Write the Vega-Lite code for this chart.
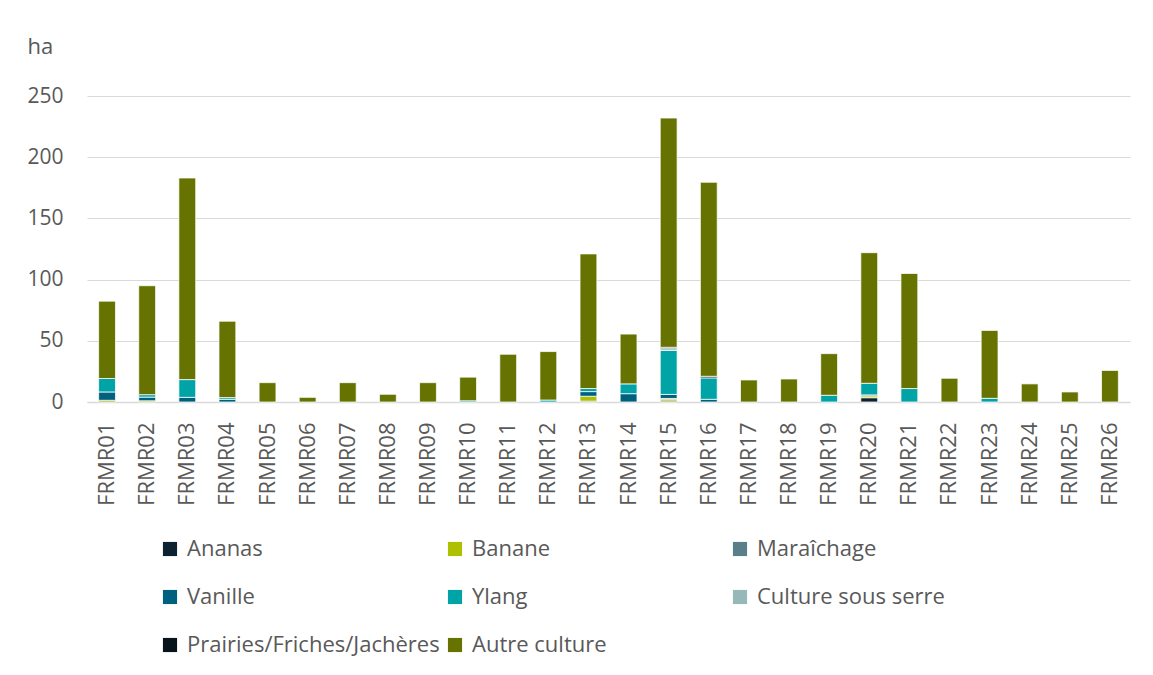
{
  "$schema": "https://vega.github.io/schema/vega-lite/v6.json",
  "autosize": {"type": "none"},
  "padding": {"left": 87, "top": 96, "right": 23, "bottom": 273},
  "width": 1043,
  "height": 306,
  "background": "white",
  "config": {
    "font": "Open Sans",
    "view": {"stroke": null},
    "axis": {"labelColor": "#595959", "titleColor": "#595959", "labelFont": "Open Sans", "titleFont": "Open Sans"},
    "legend": {"labelFont": "Open Sans"}
  },
  "data": {
    "values": [
      {"region": "FRMR01", "culture": "Banane", "ha": 1.4},
      {"region": "FRMR01", "culture": "Vanille", "ha": 6.8},
      {"region": "FRMR01", "culture": "Ylang", "ha": 11},
      {"region": "FRMR01", "culture": "Autre culture", "ha": 63.2},
      {"region": "FRMR02", "culture": "Banane", "ha": 1},
      {"region": "FRMR02", "culture": "Vanille", "ha": 3},
      {"region": "FRMR02", "culture": "Ylang", "ha": 2},
      {"region": "FRMR02", "culture": "Autre culture", "ha": 89},
      {"region": "FRMR03", "culture": "Vanille", "ha": 3.8},
      {"region": "FRMR03", "culture": "Ylang", "ha": 14.5},
      {"region": "FRMR03", "culture": "Autre culture", "ha": 164.7},
      {"region": "FRMR04", "culture": "Vanille", "ha": 2.2},
      {"region": "FRMR04", "culture": "Ylang", "ha": 1.4},
      {"region": "FRMR04", "culture": "Autre culture", "ha": 62.4},
      {"region": "FRMR05", "culture": "Autre culture", "ha": 15.8},
      {"region": "FRMR06", "culture": "Autre culture", "ha": 3.8},
      {"region": "FRMR07", "culture": "Autre culture", "ha": 15.8},
      {"region": "FRMR08", "culture": "Autre culture", "ha": 6.3},
      {"region": "FRMR09", "culture": "Autre culture", "ha": 15.8},
      {"region": "FRMR10", "culture": "Ylang", "ha": 1},
      {"region": "FRMR10", "culture": "Autre culture", "ha": 19.3},
      {"region": "FRMR11", "culture": "Autre culture", "ha": 39},
      {"region": "FRMR12", "culture": "Ylang", "ha": 1.6},
      {"region": "FRMR12", "culture": "Autre culture", "ha": 39.6},
      {"region": "FRMR13", "culture": "Ananas", "ha": 0.7},
      {"region": "FRMR13", "culture": "Banane", "ha": 4},
      {"region": "FRMR13", "culture": "Vanille", "ha": 3.8},
      {"region": "FRMR13", "culture": "Ylang", "ha": 2.5},
      {"region": "FRMR13", "culture": "Autre culture", "ha": 110},
      {"region": "FRMR14", "culture": "Vanille", "ha": 6.8},
      {"region": "FRMR14", "culture": "Ylang", "ha": 8},
      {"region": "FRMR14", "culture": "Autre culture", "ha": 40.7},
      {"region": "FRMR15", "culture": "Ananas", "ha": 0.8},
      {"region": "FRMR15", "culture": "Banane", "ha": 1.6},
      {"region": "FRMR15", "culture": "Maraîchage", "ha": 0.5},
      {"region": "FRMR15", "culture": "Vanille", "ha": 3.3},
      {"region": "FRMR15", "culture": "Ylang", "ha": 36},
      {"region": "FRMR15", "culture": "Culture sous serre", "ha": 1.4},
      {"region": "FRMR15", "culture": "Prairies/Friches/Jachères", "ha": 1.1},
      {"region": "FRMR15", "culture": "Autre culture", "ha": 187.3},
      {"region": "FRMR16", "culture": "Vanille", "ha": 2.2},
      {"region": "FRMR16", "culture": "Ylang", "ha": 17.5},
      {"region": "FRMR16", "culture": "Prairies/Friches/Jachères", "ha": 1.3},
      {"region": "FRMR16", "culture": "Autre culture", "ha": 158.5},
      {"region": "FRMR17", "culture": "Autre culture", "ha": 18},
      {"region": "FRMR18", "culture": "Autre culture", "ha": 18.8},
      {"region": "FRMR19", "culture": "Ylang", "ha": 5.5},
      {"region": "FRMR19", "culture": "Autre culture", "ha": 34},
      {"region": "FRMR20", "culture": "Ananas", "ha": 3.5},
      {"region": "FRMR20", "culture": "Banane", "ha": 1.5},
      {"region": "FRMR20", "culture": "Vanille", "ha": 0.8},
      {"region": "FRMR20", "culture": "Ylang", "ha": 9.5},
      {"region": "FRMR20", "culture": "Autre culture", "ha": 106.7},
      {"region": "FRMR21", "culture": "Ylang", "ha": 11},
      {"region": "FRMR21", "culture": "Autre culture", "ha": 94},
      {"region": "FRMR22", "culture": "Autre culture", "ha": 19.4},
      {"region": "FRMR23", "culture": "Ylang", "ha": 3},
      {"region": "FRMR23", "culture": "Autre culture", "ha": 55.5},
      {"region": "FRMR24", "culture": "Autre culture", "ha": 14.8},
      {"region": "FRMR25", "culture": "Autre culture", "ha": 8.2},
      {"region": "FRMR26", "culture": "Autre culture", "ha": 25.8}
    ]
  },
  "transform": [
    {"calculate": "indexof(['Ananas', 'Banane', 'Maraîchage', 'Vanille', 'Ylang', 'Culture sous serre', 'Prairies/Friches/Jachères', 'Autre culture'], datum.culture)", "as": "stack_rank"}
  ],
  "mark": {"type": "bar", "stroke": "#ffffff", "strokeWidth": 0.75},
  "encoding": {
    "x": {
      "field": "region",
      "type": "nominal",
      "sort": null,
      "scale": {"paddingInner": 0.58, "paddingOuter": 0.29},
      "axis": {
        "title": null,
        "labelAngle": -90,
        "labelFontSize": 22,
        "labelPadding": 20,
        "ticks": false,
        "domain": true,
        "domainColor": "#d9d9d9",
        "domainWidth": 1.5
      }
    },
    "y": {
      "field": "ha",
      "type": "quantitative",
      "stack": "zero",
      "scale": {"domain": [0, 250], "nice": false},
      "axis": {
        "title": "ha",
        "titleAngle": 0,
        "titleAlign": "left",
        "titleBaseline": "alphabetic",
        "titleX": -60,
        "titleY": -43,
        "titleFontSize": 22,
        "titleFontWeight": "normal",
        "values": [0, 50, 100, 150, 200, 250],
        "labelFontSize": 21,
        "labelPadding": 24,
        "ticks": false,
        "domain": false,
        "grid": true,
        "gridColor": "#d9d9d9",
        "gridWidth": 1.2
      }
    },
    "order": {"field": "stack_rank", "type": "quantitative", "sort": "ascending"},
    "color": {
      "field": "culture",
      "type": "nominal",
      "scale": {
        "domain": ["Ananas", "Banane", "Maraîchage", "Vanille", "Ylang", "Culture sous serre", "Prairies/Friches/Jachères", "Autre culture"],
        "range": ["#0d2230", "#afc000", "#5a7f89", "#00617f", "#00a3a6", "#96b8b9", "#07141c", "#667300"]
      },
      "legend": {
        "title": null,
        "orient": "none",
        "legendX": 72,
        "legendY": 442,
        "direction": "horizontal",
        "columns": 3,
        "gridAlign": "all",
        "columnPadding": 4,
        "rowPadding": 26,
        "symbolType": "square",
        "symbolSize": 200,
        "symbolStrokeWidth": 0,
        "symbolOpacity": 1,
        "labelFontSize": 22,
        "labelColor": "#595959",
        "labelOffset": 6,
        "labelLimit": 400
      }
    }
  }
}
